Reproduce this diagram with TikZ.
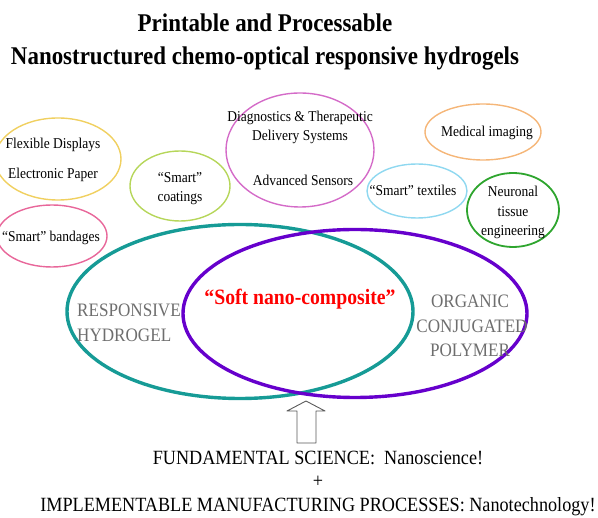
\documentclass[tikz,border=0pt]{standalone}
\usepackage{fontspec}
\setmainfont{Liberation Serif}[FakeStretch=0.9]
\definecolor{teal1}{RGB}{22,155,150}
\definecolor{purp}{RGB}{102,0,204}
\definecolor{cyel}{RGB}{240,208,96}
\definecolor{cpink}{RGB}{232,103,154}
\definecolor{clime}{RGB}{182,214,90}
\definecolor{corch}{RGB}{212,107,200}
\definecolor{corng}{RGB}{245,182,120}
\definecolor{cblue}{RGB}{143,216,240}
\definecolor{cgrn}{RGB}{46,165,46}
\definecolor{gtext}{RGB}{110,110,110}
\begin{document}
\begin{tikzpicture}[x=1pt,y=-1pt,
  small/.style={anchor=base,inner sep=0pt,font=\fontsize{15}{16}\selectfont},
  big/.style={anchor=base,inner sep=0pt,font=\fontsize{19}{22}\selectfont,text=gtext},
  titl/.style={anchor=base,inner sep=0pt,font=\fontsize{25.5}{30}\selectfont\bfseries},
  foot/.style={anchor=base,inner sep=0pt,font=\fontsize{20.2}{22}\selectfont},
  thin/.style={line width=1.4pt},
  thick3/.style={line width=3.4pt}]
\useasboundingbox (0,0) rectangle (598,518);
% title
\node[titl] (t1) at (265,32) {Printable and Processable};
\node[titl] (t2) at (265,65) {Nanostructured chemo-optical responsive hydrogels};
% small ellipses
\draw[thin,cyel] (58,159) ellipse [x radius=63,y radius=41];
\node[small] (fd) at (53,149) {Flexible Displays};
\node[small] (ep) at (53,179) {Electronic Paper};
\draw[thin,cpink] (52,236) ellipse [x radius=55,y radius=31];
\node[small] (sb) at (51,242) {“Smart” bandages};
\draw[thin,clime] (180,186) ellipse [x radius=50,y radius=35];
\node[small] (sc1) at (180,183) {“Smart”};
\node[small] (sc2) at (180,202) {coatings};
\draw[thin,corch] (300,150) ellipse [x radius=74,y radius=57];
\node[small] (dg1) at (300,122) {Diagnostics \& Therapeutic};
\node[small] (dg2) at (300,141) {Delivery Systems};
\node[small] (dg3) at (303,186) {Advanced Sensors};
\draw[thin,corng] (483,132) ellipse [x radius=58,y radius=28];
\node[small] (mi) at (487,137) {Medical imaging};
\draw[thin,cblue] (417,191) ellipse [x radius=50,y radius=27];
\node[small] (st) at (413,196) {“Smart” textiles};
\draw[line width=1.8pt,cgrn] (513,210) ellipse [x radius=46,y radius=37];
\node[small] (n1) at (513,197) {Neuronal};
\node[small] (n2) at (513,217) {tissue};
\node[small] (n3) at (513,236) {engineering};
% big ellipses
\draw[thick3,teal1] (240,311.5) ellipse [x radius=173,y radius=87];
\draw[thick3,purp] (355,313.5) ellipse [x radius=172,y radius=84];
\node[big,anchor=base west] (r1) at (77,317) {RESPONSIVE};
\node[big,anchor=base west] (r2) at (77,342) {HYDROGEL};
\node[big] (o1) at (470,308) {ORGANIC};
\node[big] (o2) at (472,333) {CONJUGATED};
\node[big] (o3) at (470,357) {POLYMER};
\node[anchor=base,inner sep=0pt,font=\fontsize{21.9}{24}\selectfont\bfseries,text=red] (snc) at (300,305) {“Soft nano-composite”};
% arrow
\draw[line width=0.9pt,draw=black!65,fill=white,line join=round]
  (297,443) -- (297,411) -- (287,411) -- (306,401) -- (325,411) -- (316,411) -- (316,443) -- cycle;
% footer
\node[foot] (f1) at (318,465) {FUNDAMENTAL SCIENCE:\ \ Nanoscience!};
\node[foot] (f2) at (318,488) {+};
\node[foot] (f3) at (318,512) {IMPLEMENTABLE MANUFACTURING PROCESSES:\ Nanotechnology!};
\end{tikzpicture}
\end{document}
